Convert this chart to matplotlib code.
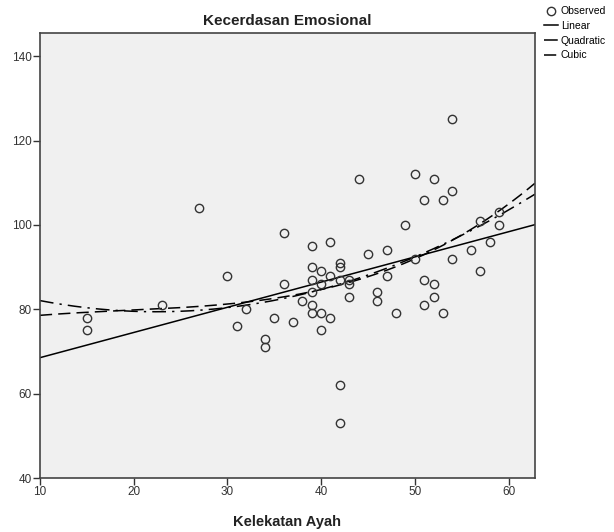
import numpy as np
import matplotlib.pyplot as plt

plt.rcParams['font.family'] = ['Liberation Sans', 'DejaVu Sans']

kelekatan_ayah = [15, 15, 27, 30, 23, 31, 32, 34, 34, 35, 36, 36, 37, 38,
                  39, 39, 39, 39, 39, 39, 40, 40, 40, 40, 41, 41, 41,
                  42, 42, 42, 42, 42, 43, 43, 43, 44, 45, 46, 46, 47, 47,
                  48, 49, 50, 50, 51, 51, 51, 52, 52, 52, 53, 53,
                  54, 54, 54, 56, 57, 57, 58, 59, 59]
kecerdasan_emosional = [78, 75, 104, 88, 81, 76, 80, 73, 71, 78, 86, 98, 77, 82,
                        95, 90, 87, 84, 81, 79, 89, 86, 79, 75, 96, 88, 78,
                        91, 90, 87, 62, 53, 87, 86, 83, 111, 93, 84, 82, 94, 88,
                        79, 100, 112, 92, 106, 87, 81, 111, 86, 83, 106, 79,
                        125, 108, 92, 94, 101, 89, 96, 103, 100]

x_ticks = [10, 20, 30, 40, 50, 60]
y_ticks = [40, 60, 80, 100, 120, 140]

x = np.array(kelekatan_ayah, dtype=float)
y = np.array(kecerdasan_emosional, dtype=float)

fig = plt.figure(figsize=(6.14, 5.32), dpi=100)
ax = fig.add_axes([0.065, 0.1015, 0.806, 0.8365])
ax.set_facecolor('#f0f0f0')

xlim = (10, 62.8)
ylim = (40, 145.5)

# curve fits (linear, quadratic, cubic) like SPSS Curve Estimation
xs = np.linspace(xlim[0], xlim[1], 300)
lin = np.polyval(np.polyfit(x, y, 1), xs)
quad = np.polyval(np.polyfit(x, y, 2), xs)
cub = np.polyval(np.polyfit(x, y, 3), xs)

ax.plot(x, y, 'o', mfc='none', mec='#333333', ms=6, mew=1.0,
        label='Observed', zorder=3)
ax.plot(xs, lin, color='black', lw=1.1, label='Linear')
ax.plot(xs, quad, color='black', lw=1.1, dashes=(9, 4, 1.5, 4),
        label='Quadratic')
ax.plot(xs, cub, color='black', lw=1.1, dashes=(8, 4), label='Cubic')

ax.set_xlim(*xlim)
ax.set_ylim(*ylim)
ax.set_xticks(x_ticks)
ax.set_yticks(y_ticks)
ax.tick_params(direction='out', length=5, width=1, labelsize=8.5,
               colors='#333333', pad=1)
for s in ax.spines.values():
    s.set_color('#444444')
    s.set_linewidth(1.2)

ax.set_title('Kecerdasan Emosional', fontsize=11, fontweight='bold',
             color='#222222', pad=6)
ax.set_xlabel('Kelekatan Ayah', fontsize=10.5, fontweight='bold',
              color='#222222', labelpad=12)

fig.legend(loc='upper left', bbox_to_anchor=(0.886, 0.988), frameon=False,
           fontsize=7.5, handlelength=1.3, handletextpad=0.3,
           labelspacing=0.45, borderaxespad=0, borderpad=0)

fig.savefig('out.png', dpi=100)
